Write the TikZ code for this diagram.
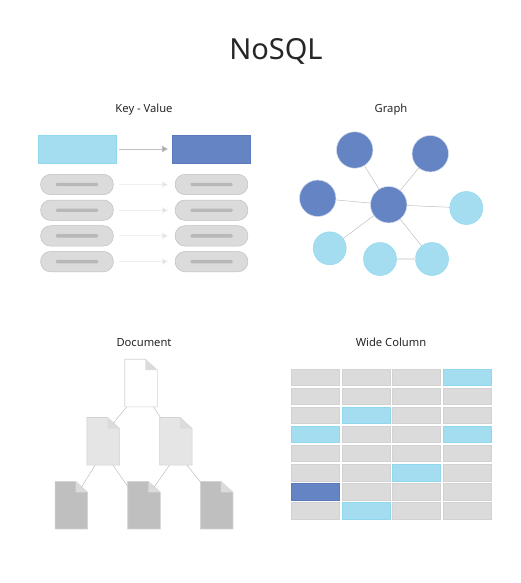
\documentclass[tikz,border=0pt]{standalone}
\usepackage{fontspec}
\setmainfont{Noto Sans}
\usetikzlibrary{arrows.meta, positioning}
\definecolor{skyfill}{HTML}{A4DDF0}
\definecolor{skyline}{HTML}{8FD8EE}
\definecolor{navyfill}{HTML}{6484C4}
\definecolor{navyline}{HTML}{5A7ABD}
\definecolor{cellfill}{HTML}{DBDBDB}
\definecolor{cellline}{HTML}{D2D2D2}
\definecolor{edgegray}{HTML}{BFBFBF}
\begin{document}
\begin{tikzpicture}[
  x=1pt, y=-1pt,
  node distance=5.3pt,
  every node/.style={inner sep=0pt, outer sep=0pt},
  heading/.style={font=\fontsize{11.2}{14}\selectfont, text=black!85},
  keybox/.style={draw=skyline, fill=skyfill, line width=0.6pt, minimum width=78pt, minimum height=28pt},
  valuebox/.style={draw=navyline, fill=navyfill, line width=0.6pt, minimum width=78.7pt, minimum height=28pt},
  pill/.style={draw=edgegray, fill=cellfill, line width=0.5pt, rounded corners=10pt, minimum width=72.8pt, minimum height=20.4pt},
  bar/.style={fill=black!28, rounded corners=1pt, minimum width=42pt, minimum height=3.4pt},
  mainarrow/.style={-{Triangle[length=6pt, width=6.6pt, fill=black!35]}, draw=edgegray, line width=0.7pt, shorten <=3pt, shorten >=4pt},
  fadearrow/.style={-{Triangle[length=6pt, width=6.6pt, fill=black!12]}, draw=black!6, line width=0.9pt, shorten <=6pt, shorten >=7pt},
  navydot/.style={circle, draw=white!70!navyfill, fill=navyfill, line width=0.5pt, minimum size=36.4pt},
  skydot/.style={circle, draw=skyline, fill=skyfill, line width=0.5pt, minimum size=33pt},
  link/.style={draw=edgegray, line width=0.5pt},
  softlink/.style={draw=black!9, line width=1.4pt},
  docfile/.style={minimum width=32.6pt, minimum height=47.6pt},
  docline/.style={draw=cellline, line width=0.6pt},
  cell/.style={draw=cellline, fill=cellfill, line width=0.4pt, minimum width=48pt, minimum height=16.6pt},
  skycell/.style={cell, draw=skyline, fill=skyfill},
  navycell/.style={cell, draw=navyline, fill=navyfill}
]
\useasboundingbox (0,0) rectangle (521,583);

\node[font=\fontsize{29}{34}\selectfont, text=black!85] (title) at (276,51) {NoSQL};
\node[heading] (kvtitle) at (144,109.5) {Key - Value};
\node[heading] (graphtitle) at (391,109.5) {Graph};
\node[heading] (doctitle) at (144,342.5) {Document};
\node[heading] (widetitle) at (391,342.5) {Wide Column};

\node[keybox] (key) at (77,149) {};
\node[valuebox] (value) at (211.3,149) {};
\draw[mainarrow] (key) -- (value);

\node[pill] (keya) at (77,184.5) {};
\node[pill, below=of keya] (keyb) {};
\node[pill, below=of keyb] (keyc) {};
\node[pill, below=of keyc] (keyd) {};
\node[pill] (vala) at (211.5,184.5) {};
\node[pill, below=of vala] (valb) {};
\node[pill, below=of valb] (valc) {};
\node[pill, below=of valc] (vald) {};
\foreach \row in {a,b,c,d} {
  \node[bar] (keybar\row) at (key\row) {};
  \node[bar] (valbar\row) at (val\row) {};
  \draw[fadearrow] (key\row) -- (val\row);
}

\node[navydot] (hub) at (388.7,204.7) {};
\node[navydot] (gone) at (354.7,150) {};
\node[navydot] (gtwo) at (430.3,153.7) {};
\node[navydot] (gthree) at (317.7,198.3) {};
\node[skydot] (gfour) at (466.3,208) {};
\node[skydot] (gfive) at (329.7,248.3) {};
\node[skydot] (gsix) at (380,259) {};
\node[skydot] (gseven) at (432,259) {};
\foreach \leaf in {gone,gtwo,gthree,gfour,gfive,gseven} {
  \draw[link] (hub) -- (\leaf);
}
\draw[softlink] (gsix) -- (gseven);

\node[docfile] (doctop) at (141,383) {};
\node[docfile] (docleft) at (103.3,441.3) {};
\node[docfile] (docright) at (175.85,441.3) {};
\node[docfile] (leafa) at (71.35,505.15) {};
\node[docfile] (leafb) at (144,505.15) {};
\node[docfile] (leafc) at (216.65,505.15) {};
\foreach \doc/\shade in {doctop/white,docleft/black!10,docright/black!10,leafa/black!25,leafb/black!25,leafc/black!25} {
  \draw[docline, fill=\shade] (\doc.north west) -- ([xshift=-12pt]\doc.north east) -- ([yshift=-11pt]\doc.north east) -- (\doc.south east) -- (\doc.south west) -- cycle;
  \fill[cellfill] ([xshift=-12pt]\doc.north east) -- ([xshift=-12pt, yshift=-11pt]\doc.north east) -- ([yshift=-11pt]\doc.north east) -- cycle;
  \coordinate (\doc-fold) at ([xshift=-6pt, yshift=-5.5pt]\doc.north east);
}
\draw[link] (doctop.-121) -- (docleft-fold);
\draw[link] (doctop.-62.6) -- (docright.123.4);
\draw[link] (docleft.-109.7) -- (leafa-fold);
\draw[link] (docleft.-68.6) -- (leafb.131);
\draw[link] (docright.-105) -- (leafb-fold);
\draw[link] (docright.-65.7) -- (leafc.125.8);

\foreach \col/\xpos in {1/315,2/366,3/416.5,4/467} {
  \foreach \row in {1,...,8} {
    \node[cell] (cell\col\row) at (\xpos,{377.2+(\row-1)*19.04}) {};
  }
}
\foreach \col/\row in {4/1,2/3,1/4,4/4,3/6,2/8} {
  \node[skycell] at (cell\col\row) {};
}
\node[navycell] at (cell17) {};
\end{tikzpicture}
\end{document}
